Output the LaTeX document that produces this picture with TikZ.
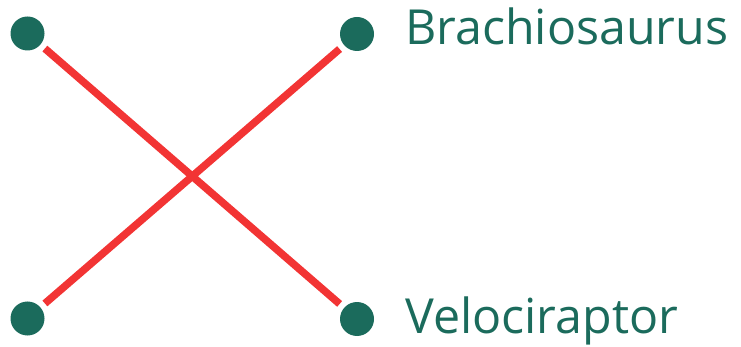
\documentclass[tikz,border=0pt]{standalone}
\usepackage{fontspec}
\setmainfont{Open Sans}
\usepackage{xcolor}
\usepackage{tikz}
\definecolor{dinoteal}{HTML}{1B6B5C}
\definecolor{linkred}{HTML}{F23434}
\tikzset{
    dot/.style={circle, fill=dinoteal, minimum size=0.68cm, inner sep=0pt, outer sep=0.12cm},
    dinoname/.style={font=\fontsize{27.5}{32}\selectfont, text=dinoteal, anchor=base west, inner sep=0pt},
    link/.style={draw=linkred, line width=0.15cm},
}

\begin{document}
\begin{tikzpicture}
            \useasboundingbox (0,0) rectangle (14.82,-6.94);
            % --- dots ---
            \node[dot] (tl) at (0.55,-0.67) {};
            \node[dot] (tr) at (7.14,-0.68) {};
            \node[dot] (bl) at (0.55,-6.37) {};
            \node[dot] (br) at (7.14,-6.38) {};
            % --- names ---
            \node[dinoname] (brachio) at (8.10,-0.90) {Brachiosaurus};
            \node[dinoname] (veloci) at (8.10,-6.66) {Velociraptor};
            % --- crossing links ---
            \draw[link] (tl) -- (br);
            \draw[link] (bl) -- (tr);
        \end{tikzpicture}
\end{document}
